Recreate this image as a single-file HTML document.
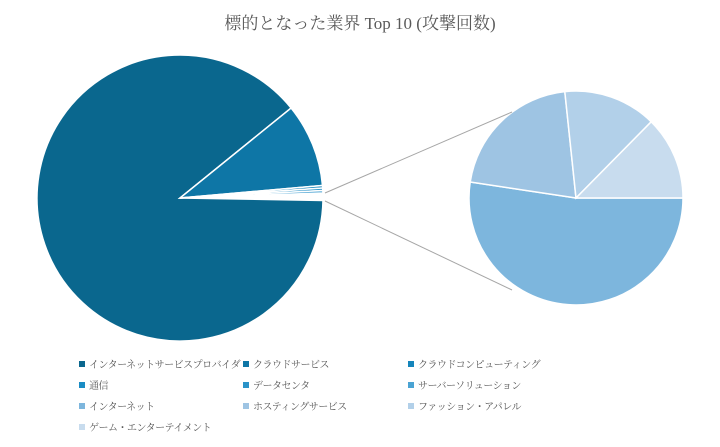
<!DOCTYPE html>
<html><head><meta charset="utf-8"><style>
body{margin:0;background:#fff;}
.w{position:relative;width:720px;height:447px;overflow:hidden;font-family:"Liberation Serif","Noto Serif CJK SC",serif;color:#595959}
.t{position:absolute;top:9px;left:0;width:720px;text-align:center;font-size:17px}
.l{position:absolute;font-size:10px;letter-spacing:-0.5px;font-family:"Liberation Serif","Noto Serif CJK JP",serif;white-space:nowrap;line-height:14px}
.l i{display:inline-block;width:6px;height:6px;margin-right:4px;vertical-align:1px}
</style></head><body><div class="w">
<div class="t">標的となった業界 Top 10 (攻撃回数)</div>
<svg width="720" height="447" style="position:absolute;left:0;top:0">
<g stroke="#fff" stroke-width="1.5">
<path d="M180,198 L322.98,200.5 A143,143 0 1,1 291.1,108 Z" fill="#0a678e"/>
<path d="M180,198 L291.1,108 A143,143 0 0,1 322.5,185.5 Z" fill="#0e76a6"/>
<path d="M180,198 L322.5,185.5 A143,143 0 0,1 322.65,188 Z" fill="#1585bb"/>
<path d="M180,198 L322.65,188 A143,143 0 0,1 322.8,190.5 Z" fill="#2a93c8"/>
<path d="M180,198 L322.8,190.5 A143,143 0 0,1 322.9,193 Z" fill="#4aa3d3"/>
<path d="M576,198 L683,198 A107,107 0 1,1 470.2,182 Z" fill="#7db6dd"/>
<path d="M576,198 L470.2,182 A107,107 0 0,1 564.8,91.6 Z" fill="#9ec4e3"/>
<path d="M576,198 L564.8,91.6 A107,107 0 0,1 651.2,121.8 Z" fill="#b2d0e9"/>
<path d="M576,198 L651.2,121.8 A107,107 0 0,1 683,198 Z" fill="#c8dcee"/>
</g>
<line x1="325" y1="193" x2="512" y2="112" stroke="#a6a6a6" stroke-width="1"/>
<line x1="325" y1="201" x2="512" y2="290" stroke="#a6a6a6" stroke-width="1"/>
</svg>
<div class="l" style="left:79px;top:359px"><i style="background:#0a678e"></i>インターネットサービスプロバイダ</div>
<div class="l" style="left:243px;top:359px"><i style="background:#0e76a6"></i>クラウドサービス</div>
<div class="l" style="left:408px;top:359px"><i style="background:#1585bb"></i>クラウドコンピューティング</div>
<div class="l" style="left:79px;top:380px"><i style="background:#1a8cc4"></i>通信</div>
<div class="l" style="left:243px;top:380px"><i style="background:#2a93c8"></i>データセンタ</div>
<div class="l" style="left:408px;top:380px"><i style="background:#4aa3d3"></i>サーバーソリューション</div>
<div class="l" style="left:79px;top:401px"><i style="background:#7db6dd"></i>インターネット</div>
<div class="l" style="left:243px;top:401px"><i style="background:#9ec4e3"></i>ホスティングサービス</div>
<div class="l" style="left:408px;top:401px"><i style="background:#b2d0e9"></i>ファッション・アパレル</div>
<div class="l" style="left:79px;top:422px"><i style="background:#c8dcee"></i>ゲーム・エンターテイメント</div>
</div></body></html>
